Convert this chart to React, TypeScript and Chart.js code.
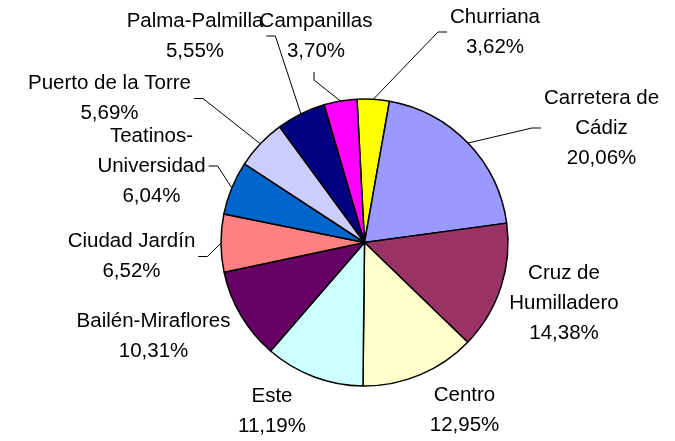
import React, { useEffect, useRef } from 'react';
import { Chart, registerables } from 'chart.js';

Chart.register(...registerables);

// ---- data ----
const districts = [
  'Churriana',
  'Carretera de Cádiz',
  'Cruz de Humilladero',
  'Centro',
  'Este',
  'Bailén-Miraflores',
  'Ciudad Jardín',
  'Teatinos-Universidad',
  'Puerto de la Torre',
  'Palma-Palmilla',
  'Campanillas',
];
const shares = [3.62, 20.06, 14.38, 12.95, 11.19, 10.31, 6.52, 6.04, 5.69, 5.55, 3.7];
const nameLines = [
  ['Churriana'],
  ['Carretera de', 'Cádiz'],
  ['Cruz de', 'Humilladero'],
  ['Centro'],
  ['Este'],
  ['Bailén-Miraflores'],
  ['Ciudad Jardín'],
  ['Teatinos-', 'Universidad'],
  ['Puerto de la Torre'],
  ['Palma-Palmilla'],
  ['Campanillas'],
];

// ---- styles / layout ----
const sliceColors = [
  '#FFFF00', '#9999FF', '#993366', '#FFFFCC', '#CCFFFF', '#660066',
  '#FF8080', '#0066CC', '#CCCCFF', '#000080', '#FF00FF',
];
// label box centre relative to pie centre, and leader line style
const labelLayout = [
  { dx: 130.5, dy: -210.5, leader: 'left' },
  { dx: 237, dy: -114.5, leader: 'left' },
  { dx: 199.5, dy: 61, leader: 'none' },
  { dx: 100, dy: 167.5, leader: 'none' },
  { dx: -92.5, dy: 169, leader: 'none' },
  { dx: -211, dy: 94, leader: 'none' },
  { dx: -233, dy: 14, leader: 'right' },
  { dx: -213, dy: -76.5, leader: 'right' },
  { dx: -255, dy: -144, leader: 'right' },
  { dx: -169.5, dy: -206.5, leader: 'right' },
  { dx: -48.5, dy: -206.5, leader: 'down' },
];
const FONT_SIZE = 20.5;
const LINE_H = 30;
const FONT = `${FONT_SIZE}px "Liberation Sans", Arial, sans-serif`;

const fmt = (v: number) => v.toFixed(2).replace('.', ',') + '%';

const labelPlugin = {
  id: 'pieLabels',
  afterDatasetsDraw(chart: any) {
    const ctx = chart.ctx;
    const meta = chart.getDatasetMeta(0);
    ctx.save();
    ctx.font = FONT;
    ctx.fillStyle = '#000';
    ctx.textAlign = 'center';
    ctx.textBaseline = 'middle';
    meta.data.forEach((arc: any, i: number) => {
      const { x, y, startAngle, endAngle, outerRadius } = arc.getProps(
        ['x', 'y', 'startAngle', 'endAngle', 'outerRadius'],
        true
      );
      const lay = labelLayout[i];
      const lines = [...nameLines[i], fmt(shares[i])];
      const cx = x + lay.dx;
      const cy = y + lay.dy;
      const n = lines.length;
      const boxW = Math.max(...lines.map((l) => ctx.measureText(l).width));
      lines.forEach((l, k) => ctx.fillText(l, cx, cy + (k - (n - 1) / 2) * LINE_H));
      if (lay.leader !== 'none') {
        const mid = (startAngle + endAngle) / 2;
        const ex = x + Math.cos(mid) * outerRadius;
        const ey = y + Math.sin(mid) * outerRadius;
        let sx = 0, sy = 0, bx = 0, by = 0;
        if (lay.leader === 'right') {
          sx = cx + boxW / 2 + 3; sy = cy; bx = sx + 9; by = sy;
        } else if (lay.leader === 'left') {
          sx = cx - boxW / 2 - 3; sy = cy; bx = sx - 9; by = sy;
        } else {
          sx = cx - 2; sy = cy + 36; bx = sx; by = sy + 8;
        }
        ctx.beginPath();
        ctx.strokeStyle = '#000';
        ctx.lineWidth = 1;
        ctx.moveTo(sx, sy);
        ctx.lineTo(bx, by);
        ctx.lineTo(ex, ey);
        ctx.stroke();
      }
    });
    ctx.restore();
  },
};

export default function App() {
  const ref = useRef<HTMLCanvasElement>(null);
  useEffect(() => {
    if (!ref.current) return;
    const chart = new Chart(ref.current, {
      type: 'pie',
      data: {
        labels: districts,
        datasets: [
          {
            data: shares,
            backgroundColor: sliceColors,
            borderColor: '#000',
            borderWidth: 1.5,
          },
        ],
      },
      options: {
        responsive: false,
        animation: false,
        rotation: -3,
        layout: { padding: { left: 220.25, right: 166.25, top: 98.25, bottom: 54.25 } },
        plugins: { legend: { display: false }, tooltip: { enabled: false } },
      },
      plugins: [labelPlugin],
    });
    return () => chart.destroy();
  }, []);
  return (
    <div style={{ position: 'fixed', left: 0, top: 0, width: 675, height: 441, background: '#fff' }}>
      <canvas ref={ref} width={675} height={441} />
    </div>
  );
}
